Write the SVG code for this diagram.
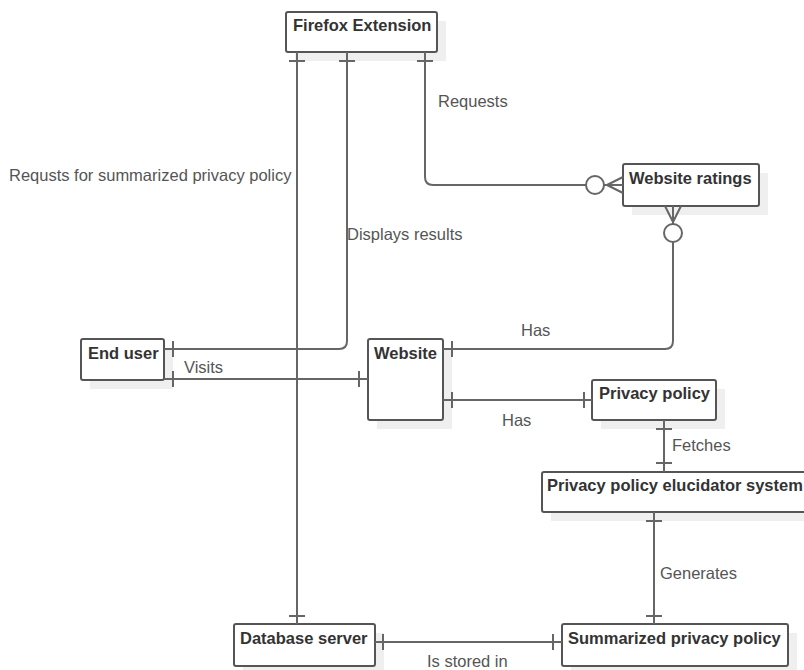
<svg xmlns="http://www.w3.org/2000/svg" width="804" height="670" viewBox="0 0 804 670">
<style>
.bg{fill:#fff}
.box{fill:#fff;stroke:#555;stroke-width:2}
.shadow{fill:#efefef}
.name{font-family:"Liberation Sans",Arial,sans-serif;font-size:16.5px;font-weight:bold;fill:#333}
.conn{fill:none;stroke:#666;stroke-width:2}
.circ{fill:#fff;stroke:#666;stroke-width:2}
.lbl{font-family:"Liberation Sans",Arial,sans-serif;font-size:16.5px;fill:#555}
</style>
<rect class="bg" x="0" y="0" width="804" height="670"/>
<g id="firefox">
<rect class="shadow" x="295" y="21" width="151" height="40"/>
<rect class="box" x="286" y="12" width="151" height="40" rx="2"/>
<text class="name" x="293" y="31">Firefox Extension</text>
</g>
<g id="ratings">
<rect class="shadow" x="632" y="173" width="136" height="42"/>
<rect class="box" x="623" y="164" width="136" height="42" rx="2"/>
<text class="name" x="629" y="184">Website ratings</text>
</g>
<g id="enduser">
<rect class="shadow" x="90" y="348" width="83" height="41"/>
<rect class="box" x="81" y="339" width="83" height="41" rx="2"/>
<text class="name" x="88" y="359">End user</text>
</g>
<g id="website">
<rect class="shadow" x="377" y="348" width="75" height="81"/>
<rect class="box" x="368" y="339" width="75" height="81" rx="2"/>
<text class="name" x="374" y="359">Website</text>
</g>
<g id="privacy">
<rect class="shadow" x="601" y="389" width="124" height="40"/>
<rect class="box" x="592" y="380" width="124" height="40" rx="2"/>
<text class="name" x="599" y="399">Privacy policy</text>
</g>
<g id="elucidator">
<rect class="shadow" x="551" y="481" width="270" height="40"/>
<rect class="box" x="542" y="472" width="270" height="40" rx="2"/>
<text class="name" x="547" y="491">Privacy policy elucidator system</text>
</g>
<g id="database">
<rect class="shadow" x="243" y="633" width="141" height="42"/>
<rect class="box" x="234" y="624" width="141" height="42" rx="2"/>
<text class="name" x="240" y="644">Database server</text>
</g>
<g id="summarized">
<rect class="shadow" x="571" y="633" width="226" height="42"/>
<rect class="box" x="562" y="624" width="226" height="42" rx="2"/>
<text class="name" x="568" y="644">Summarized privacy policy</text>
</g>
<g id="connectors">
<path class="conn" d="M297 52V624M289 61H305M289 616H305"/>
<path class="conn" d="M347 52V341Q347 349 339 349H164M339 61H355M173 341V357"/>
<path class="conn" d="M425 52V177Q425 185 433 185H586M417 61H433"/>
<path class="conn" d="M604 185H623M607 185L623 177M607 185L623 193"/>
<circle class="circ" cx="595" cy="185" r="9"/>
<path class="conn" d="M673 206V224M673 222L665 206M673 222L681 206"/>
<circle class="circ" cx="673" cy="233" r="9"/>
<path class="conn" d="M673 242V341Q673 349 665 349H443M452 341V357"/>
<path class="conn" d="M164 379H368M173 371V387M359 371V387"/>
<path class="conn" d="M443 400H592M452 392V408M584 392V408"/>
<path class="conn" d="M664 420V472M656 429H672M656 463H672"/>
<path class="conn" d="M654 512V624M646 521H662M646 616H662"/>
<path class="conn" d="M375 642H562M383 634V650M553 634V650"/>
</g>
<g id="labels">
<text class="lbl" x="438" y="107">Requests</text>
<text class="lbl" x="9" y="181">Requsts for summarized privacy policy</text>
<text class="lbl" x="347" y="240">Displays results</text>
<text class="lbl" x="521" y="336">Has</text>
<text class="lbl" x="184" y="373">Visits</text>
<text class="lbl" x="502" y="426">Has</text>
<text class="lbl" x="672" y="451">Fetches</text>
<text class="lbl" x="660" y="579">Generates</text>
<text class="lbl" x="427" y="667">Is stored in</text>
</g>
</svg>
